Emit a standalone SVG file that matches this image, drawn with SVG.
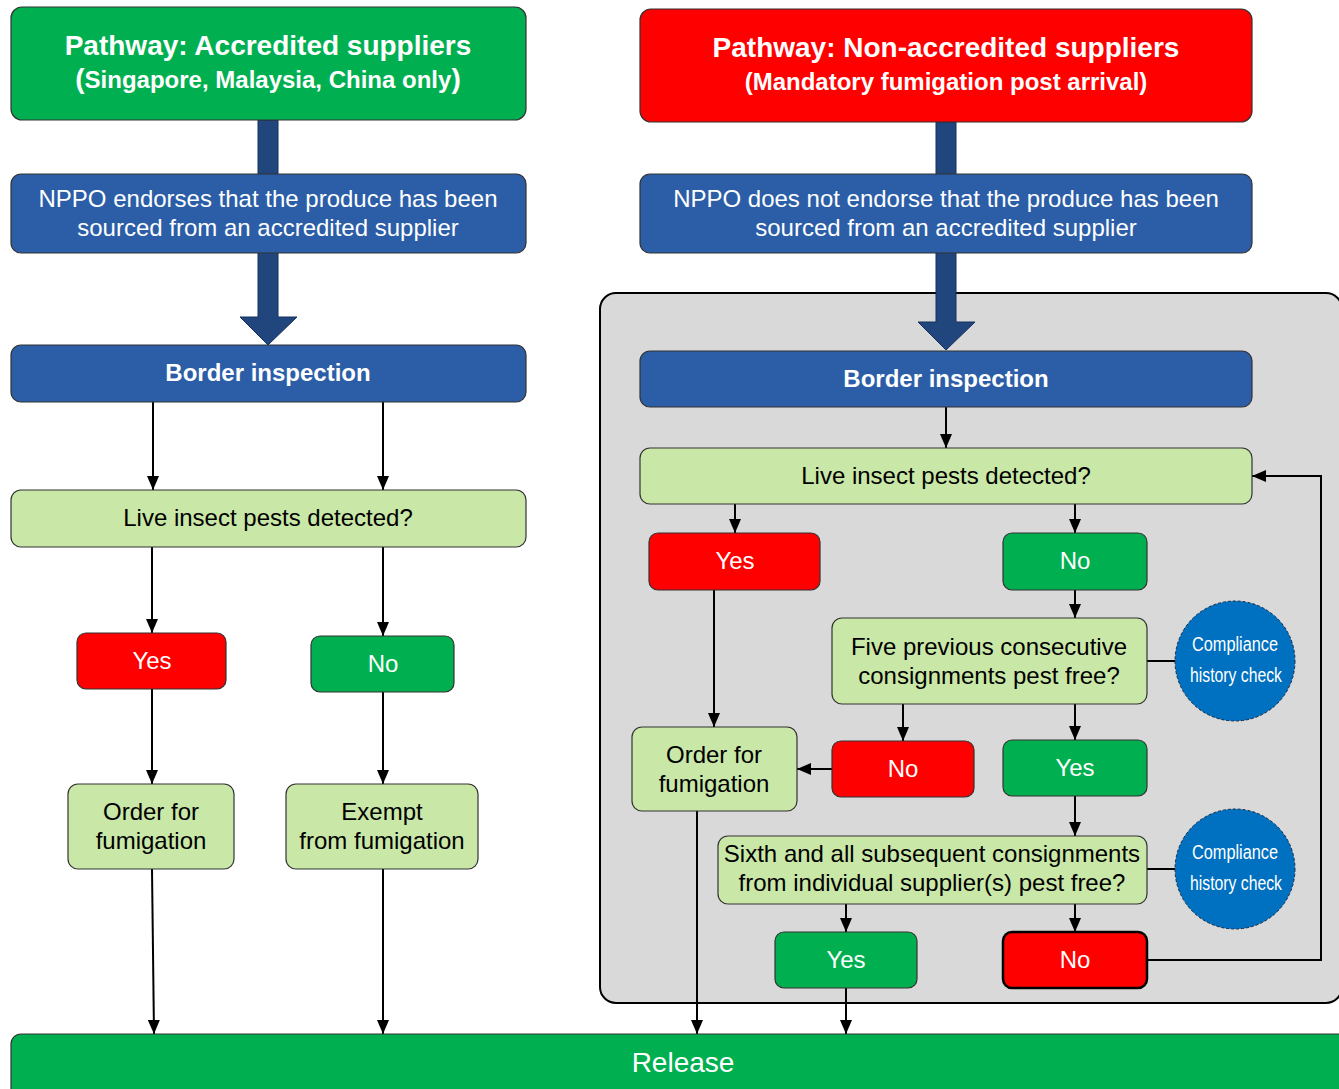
<svg xmlns="http://www.w3.org/2000/svg" width="1339" height="1089" viewBox="0 0 1339 1089">
<defs>
<style>
.bx{stroke:#333;stroke-width:1.2}
.lg{fill:#C9E7A7}
.bl{fill:#2B5EA7}
.rd{fill:#FF0000}
.gn{fill:#00B050}
.t{font-family:"Liberation Sans",Arial,sans-serif;font-size:24px;text-anchor:middle}
.big{font-size:28px}
.w{fill:#fff}
.k{fill:#000}
.b{font-weight:bold}
.ln{stroke:#000;stroke-width:2;fill:none}
.ar{stroke:#000;stroke-width:2;fill:none;marker-end:url(#ah)}
.thick{fill:#21467D;stroke:#15305A;stroke-width:1}
.cc{fill:#0070C0;stroke:#1a2a44;stroke-width:1;stroke-dasharray:3 2}
.ct{font-family:"Liberation Sans",Arial,sans-serif;font-size:20px;text-anchor:middle;fill:#fff}
</style>
<marker id="ah" viewBox="0 0 14 12" refX="14" refY="6" markerWidth="14" markerHeight="12" markerUnits="userSpaceOnUse" orient="auto">
<path d="M0,0 L14,6 L0,12 z" fill="#000"/>
</marker>
</defs>

<rect x="0" y="0" width="1339" height="1089" fill="#fff"/>

<!-- gray panel -->
<g id="panel">
<rect x="600" y="293" width="742" height="710" rx="16" fill="#D9D9D9" stroke="#000" stroke-width="2"/>
</g>

<!-- connectors -->
<g id="connectors">
<polygon class="thick" points="258,120 278,120 278,317 297,317 268,345 240,317 258,317"/>
<polygon class="thick" points="936,122 956,122 956,322 975,322 946,350 918,322 936,322"/>

<line class="ar" x1="153" y1="402" x2="153" y2="490"/>
<line class="ar" x1="383" y1="402" x2="383" y2="490"/>
<line class="ar" x1="152" y1="547" x2="152" y2="633"/>
<line class="ar" x1="383" y1="547" x2="383" y2="636"/>
<line class="ar" x1="152" y1="689" x2="152" y2="784"/>
<line class="ar" x1="383" y1="692" x2="383" y2="784"/>
<line class="ar" x1="152" y1="869" x2="154" y2="1034"/>
<line class="ar" x1="383" y1="869" x2="383" y2="1034"/>

<line class="ar" x1="946" y1="407" x2="946" y2="448"/>
<line class="ar" x1="735" y1="504" x2="735" y2="533"/>
<line class="ar" x1="1075" y1="504" x2="1075" y2="533"/>
<line class="ar" x1="714" y1="590" x2="714" y2="727"/>
<line class="ar" x1="1075" y1="590" x2="1075" y2="618"/>
<line class="ln" x1="1147" y1="661" x2="1175" y2="661"/>
<line class="ar" x1="903" y1="704" x2="903" y2="741"/>
<line class="ar" x1="1075" y1="704" x2="1075" y2="740"/>
<line class="ar" x1="832" y1="769" x2="797" y2="769"/>
<line class="ar" x1="1075" y1="796" x2="1075" y2="836"/>
<line class="ln" x1="1147" y1="869" x2="1175" y2="869"/>
<line class="ar" x1="846" y1="904" x2="846" y2="932"/>
<line class="ar" x1="1075" y1="904" x2="1075" y2="932"/>
<polyline class="ar" points="1147,960 1321,960 1321,476 1252,476"/>
<line class="ar" x1="697" y1="811" x2="697" y2="1034"/>
<line class="ar" x1="846" y1="988" x2="846" y2="1034"/>
</g>

<!-- left pathway -->
<g id="hdr-left">
<rect class="bx gn" x="11" y="7" width="515" height="113" rx="11"/>
<text class="t w b big" x="268" y="55">Pathway: Accredited suppliers</text>
<text class="t w b" x="268" y="88"><tspan style="font-size:28px">(</tspan>Singapore, Malaysia, China only<tspan style="font-size:28px">)</tspan></text>
</g>
<g id="nppo-left">
<rect class="bx bl" x="11" y="174" width="515" height="79" rx="10"/>
<text class="t w" x="268" y="207">NPPO endorses that the produce has been</text>
<text class="t w" x="268" y="236">sourced from an accredited supplier</text>
</g>
<g id="border-left">
<rect class="bx bl" x="11" y="345" width="515" height="57" rx="10"/>
<text class="t w b" x="268" y="381">Border inspection</text>
</g>
<g id="live-left">
<rect class="bx lg" x="11" y="490" width="515" height="57" rx="10"/>
<text class="t k" x="268" y="526">Live insect pests detected?</text>
</g>
<g id="yes-left">
<rect class="bx rd" x="77" y="633" width="149" height="56" rx="9"/>
<text class="t w" x="152" y="669">Yes</text>
</g>
<g id="no-left">
<rect class="bx gn" x="311" y="636" width="143" height="56" rx="9"/>
<text class="t w" x="383" y="672">No</text>
</g>
<g id="order-left">
<rect class="bx lg" x="68" y="784" width="166" height="85" rx="10"/>
<text class="t k" x="151" y="820">Order for</text>
<text class="t k" x="151" y="849">fumigation</text>
</g>
<g id="exempt-left">
<rect class="bx lg" x="286" y="784" width="192" height="85" rx="10"/>
<text class="t k" x="382" y="820">Exempt</text>
<text class="t k" x="382" y="849">from fumigation</text>
</g>

<!-- right pathway -->
<g id="hdr-right">
<rect class="bx rd" x="640" y="9" width="612" height="113" rx="11"/>
<text class="t w b big" x="946" y="57">Pathway: Non-accredited suppliers</text>
<text class="t w b" x="946" y="90">(Mandatory fumigation post arrival)</text>
</g>
<g id="nppo-right">
<rect class="bx bl" x="640" y="174" width="612" height="79" rx="10"/>
<text class="t w" x="946" y="207">NPPO does not endorse that the produce has been</text>
<text class="t w" x="946" y="236">sourced from an accredited supplier</text>
</g>
<g id="border-right">
<rect class="bx bl" x="640" y="351" width="612" height="56" rx="10"/>
<text class="t w b" x="946" y="387">Border inspection</text>
</g>
<g id="live-right">
<rect class="bx lg" x="640" y="448" width="612" height="56" rx="10"/>
<text class="t k" x="946" y="484">Live insect pests detected?</text>
</g>
<g id="yes-right">
<rect class="bx rd" x="649" y="533" width="171" height="57" rx="9"/>
<text class="t w" x="735" y="569">Yes</text>
</g>
<g id="no-right">
<rect class="bx gn" x="1003" y="533" width="144" height="57" rx="9"/>
<text class="t w" x="1075" y="569">No</text>
</g>
<g id="five">
<rect class="bx lg" x="832" y="618" width="315" height="86" rx="10"/>
<text class="t k" x="989" y="655">Five previous consecutive</text>
<text class="t k" x="989" y="684">consignments pest free?</text>
</g>
<g id="check1">
<circle class="cc" cx="1235" cy="661" r="60"/>
<text class="ct" x="1235" y="651" textLength="86" lengthAdjust="spacingAndGlyphs">Compliance</text>
<text class="ct" x="1236" y="682" textLength="92" lengthAdjust="spacingAndGlyphs">history check</text>
</g>
<g id="order-right">
<rect class="bx lg" x="632" y="727" width="165" height="84" rx="10"/>
<text class="t k" x="714" y="763">Order for</text>
<text class="t k" x="714" y="792">fumigation</text>
</g>
<g id="no-five">
<rect class="bx rd" x="832" y="741" width="142" height="56" rx="9"/>
<text class="t w" x="903" y="777">No</text>
</g>
<g id="yes-five">
<rect class="bx gn" x="1003" y="740" width="144" height="56" rx="9"/>
<text class="t w" x="1075" y="776">Yes</text>
</g>
<g id="sixth">
<rect class="bx lg" x="718" y="836" width="429" height="68" rx="10"/>
<text class="t k" x="932" y="862">Sixth and all subsequent consignments</text>
<text class="t k" x="932" y="891">from individual supplier(s) pest free?</text>
</g>
<g id="check2">
<circle class="cc" cx="1235" cy="869" r="60"/>
<text class="ct" x="1235" y="859" textLength="86" lengthAdjust="spacingAndGlyphs">Compliance</text>
<text class="ct" x="1236" y="890" textLength="92" lengthAdjust="spacingAndGlyphs">history check</text>
</g>
<g id="yes-sixth">
<rect class="bx gn" x="775" y="932" width="142" height="56" rx="9"/>
<text class="t w" x="846" y="968">Yes</text>
</g>
<g id="no-sixth">
<rect x="1003" y="932" width="144" height="56" rx="9" fill="#FF0000" stroke="#000" stroke-width="2.5"/>
<text class="t w" x="1075" y="968">No</text>
</g>

<g id="release">
<rect class="bx gn" x="11" y="1034" width="1360" height="80" rx="10"/>
<text class="t w big" x="683" y="1072">Release</text>
</g>
</svg>
